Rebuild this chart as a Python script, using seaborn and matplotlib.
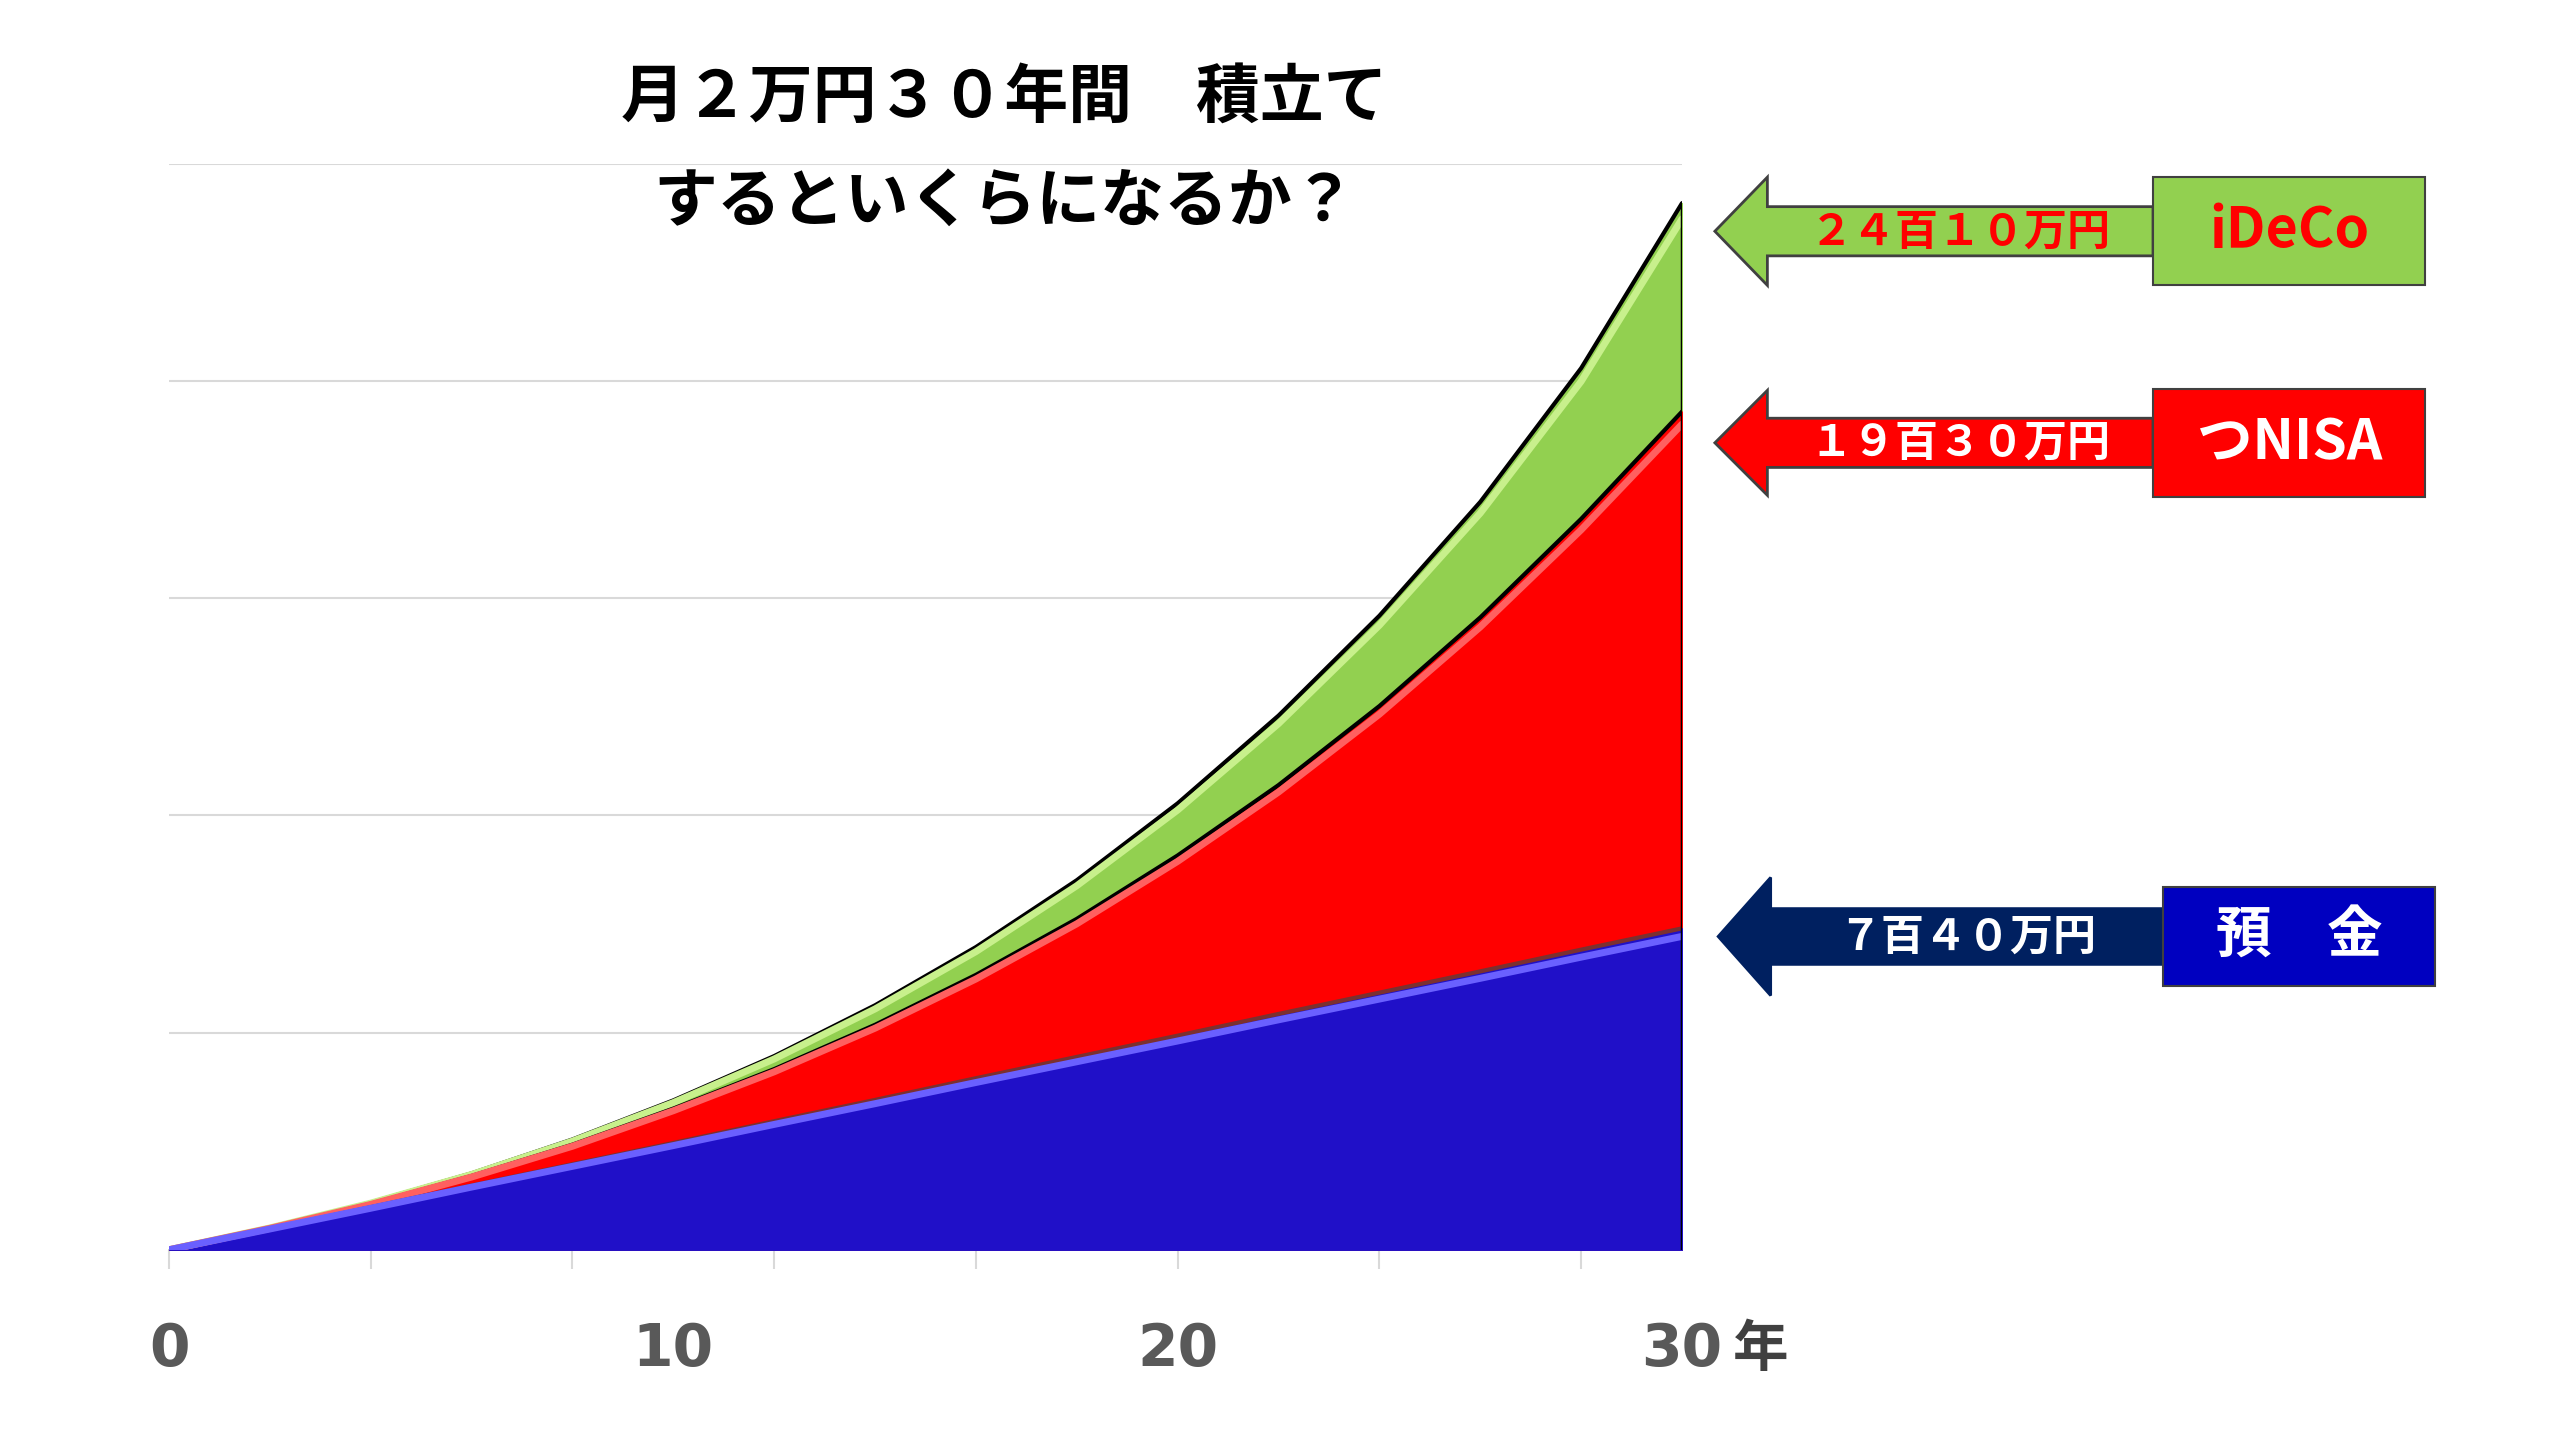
import matplotlib
matplotlib.use("Agg")
import matplotlib.pyplot as plt
import seaborn as sns
import numpy as np
from matplotlib.patches import Polygon, Rectangle

sns.set_theme(style="white")
plt.rcParams['font.family'] = ['Noto Sans CJK JP', 'DejaVu Sans']

years = [0, 2, 4, 6, 8, 10, 12, 14, 16, 18, 20, 22, 24, 26, 28, 30]
deposit = [0, 49, 98, 148, 197, 246, 296, 345, 395, 444, 493, 543, 592, 641, 691, 740]
nisa = [0, 50, 106, 170, 242, 325, 416, 518, 633, 762, 908, 1070, 1252, 1456, 1683, 1930]
ideco = [0, 51, 109, 176, 254, 344, 446, 563, 697, 851, 1028, 1230, 1460, 1722, 2030, 2410]
labels = ["２４百１０万円", "１９百３０万円", "７百４０万円"]
names = ["iDeCo", "つNISA", "預　金"]

fig = plt.figure(figsize=(25.6, 14.4), dpi=100)
W, H = 1560, 878
ax = fig.add_axes([103/W, 1-762/H, (1025-103)/W, (762-100)/H])

ax.fill_between(years, ideco, color="#92D050", zorder=2)
ax.fill_between(years, nisa, color="#FF0000", zorder=3)
ax.fill_between(years, deposit, color="#2010C8", zorder=4)
sns.lineplot(x=years, y=ideco, ax=ax, color="black", lw=3, zorder=5)
sns.lineplot(x=years, y=[v*0.985 for v in ideco], ax=ax, color="#C8F08C", lw=5, zorder=5)
sns.lineplot(x=years, y=nisa, ax=ax, color="black", lw=3, zorder=5)
sns.lineplot(x=years, y=[v*0.985 for v in nisa], ax=ax, color="#FF6060", lw=5, zorder=5)
sns.lineplot(x=years, y=deposit, ax=ax, color="#7B3030", lw=3, zorder=6)
sns.lineplot(x=years, y=[v*0.975 for v in deposit], ax=ax, color="#6A60FF", lw=5, zorder=6)
ax.plot([30, 30], [0, 2410], color="black", lw=2.5, zorder=7)

ax.set_xlim(0, 30)
ax.set_ylim(0, 2500)
ax.set_yticks([0, 500, 1000, 1500, 2000, 2500])
ax.set_yticklabels([])
ax.yaxis.grid(True, color="#D9D9D9", lw=1.5)
ax.set_axisbelow(True)
ax.tick_params(axis='y', length=0)
ax.set_xticks([0, 4, 8, 12, 16, 20, 24, 28])
ax.set_xticklabels([])
ax.tick_params(axis='x', length=14, width=1.5, color="#D9D9D9", direction="out", bottom=True)
for s in ["top", "right", "left"]:
    ax.spines[s].set_visible(False)
ax.spines["bottom"].set_color("#BFBFBF")

for xv, t in zip([0, 10, 20, 30], ["0", "10", "20", "30"]):
    ax.text(xv, -230, t, ha="center", va="center", fontsize=42, fontweight="bold",
            color="#595959", fontfamily=["DejaVu Sans"])
ax.text(31.0, -230, "年", ha="left", va="center", fontsize=40, fontweight="bold", color="#404040")

fig.text(612/W, 1-60/H, "月２万円３０年間　積立て", ha="center", va="center",
         fontsize=46, fontweight="bold", color="black")
fig.text(612/W, 1-123/H, "するといくらになるか？", ha="center", va="center",
         fontsize=46, fontweight="bold", color="black")

def px(x, y):
    return (x/W, 1-y/H)

def arrow(tip, cy, boxl, boxr, bh, headw, shaftw, color, edge, txt, tcol, name, ncol, ntxtcol):
    hx = tip + 32
    pts = [px(tip, cy), px(hx, cy-headw/2), px(hx, cy-shaftw/2), px(boxl, cy-shaftw/2),
           px(boxl, cy+shaftw/2), px(hx, cy+shaftw/2), px(hx, cy+headw/2)]
    fig.patches.append(Polygon(pts, closed=True, transform=fig.transFigure,
                               facecolor=color, edgecolor=edge, lw=2))
    fig.patches.append(Rectangle(px(boxl, cy+bh/2), (boxr-boxl)/W, bh/H, transform=fig.transFigure,
                                 facecolor=ncol, edgecolor="#404040", lw=1.5))
    fig.text(((hx+boxl)/2)/W, 1-cy/H, txt, ha="center", va="center", fontsize=31,
             fontweight="bold", color=tcol)
    fig.text(((boxl+boxr)/2)/W, 1-cy/H, name, ha="center", va="center", fontsize=40,
             fontweight="bold", color=ntxtcol)

arrow(1045, 141, 1312, 1478, 66, 66, 30, "#92D050", "#404040", labels[0], "#FF0000", names[0], "#92D050", "#FF0000")
arrow(1045, 270, 1312, 1478, 66, 64, 30, "#FF0000", "#404040", labels[1], "white", names[1], "#FF0000", "white")
arrow(1047, 571, 1318, 1484, 60, 72, 34, "#002060", "#002060", labels[2], "white", names[2], "#0000C0", "white")

fig.savefig("out.png", dpi=100)
